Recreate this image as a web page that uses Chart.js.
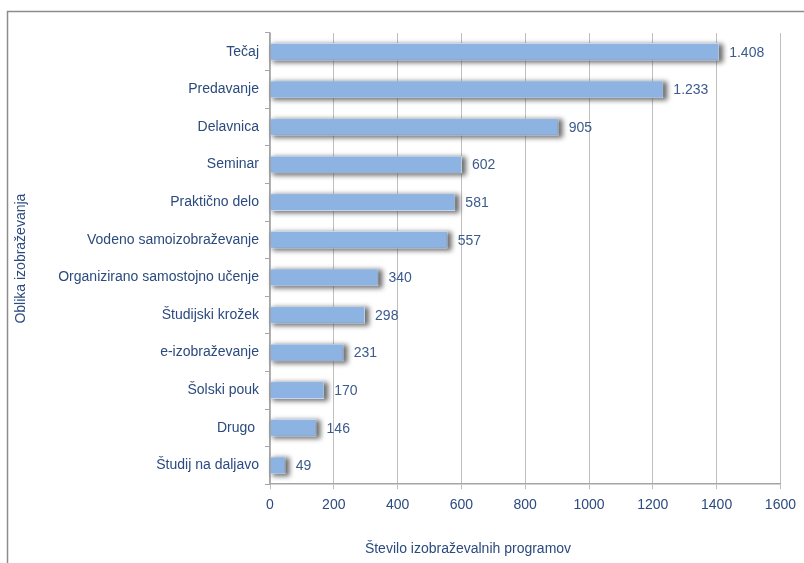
<!DOCTYPE html>
<html>
<head>
<meta charset="utf-8">
<script src="https://cdn.jsdelivr.net/npm/chart.js@4"></script>
<style>
    html, body { margin: 0; padding: 0; background: #fff; }
    #wrap { width: 804px; height: 563px; }
</style>
</head>
<body>
<div id="wrap"><canvas id="graph"></canvas></div>
<script>
const categories = [
    "Tečaj", "Predavanje", "Delavnica", "Seminar", "Praktično delo",
    "Vodeno samoizobraževanje", "Organizirano samostojno učenje",
    "Študijski krožek", "e-izobraževanje", "Šolski pouk", "Drugo ", "Študij na daljavo"
];
const programCounts = [1408, 1233, 905, 602, 581, 557, 340, 298, 231, 170, 146, 49];
const xTicks = [0, 200, 400, 600, 800, 1000, 1200, 1400, 1600];

const textColor = '#2B4A7E';
const fontFamily = "'Liberation Sans Narrow', 'Arial Narrow', 'Liberation Sans', Arial, sans-serif";

function formatThousands(v) {
    return String(v).replace(/\B(?=(\d{3})+(?!\d))/g, '.');
}

// frame round the chart (top and left edges only, like the source picture)
const framePlugin = {
    id: 'frame',
    beforeDraw(chart) {
        const ctx = chart.ctx;
        ctx.save();
        ctx.strokeStyle = '#8C8C8C';
        ctx.lineWidth = 1.5;
        ctx.beginPath();
        ctx.moveTo(7.5, chart.height);
        ctx.lineTo(7.5, 11.5);
        ctx.lineTo(chart.width, 11.5);
        ctx.stroke();
        ctx.restore();
    }
};

// blurred grey shadow behind each bar, taken from the bar elements themselves
const shadowPlugin = {
    id: 'barShadow',
    beforeDatasetsDraw(chart) {
        const ctx = chart.ctx;
        const meta = chart.getDatasetMeta(0);
        ctx.save();
        ctx.filter = 'blur(2.5px)';
        ctx.fillStyle = 'rgba(60, 60, 60, 0.75)';
        meta.data.forEach(bar => {
            const h = bar.height;
            ctx.fillRect(bar.base + 2, bar.y - h / 2 + 1, bar.x - bar.base + 2, h + 1);
        });
        ctx.restore();
    }
};

const valueLabelPlugin = {
    id: 'valueLabels',
    afterDatasetsDraw(chart) {
        const ctx = chart.ctx;
        const meta = chart.getDatasetMeta(0);
        ctx.save();
        ctx.font = '14px ' + fontFamily;
        ctx.fillStyle = '#3A5B8C';
        ctx.textAlign = 'left';
        ctx.textBaseline = 'middle';
        meta.data.forEach((bar, i) => {
            ctx.fillText(formatThousands(programCounts[i]), bar.x + 10, bar.y + 1);
        });
        ctx.restore();
    }
};

const xTitlePlugin = {
    id: 'xTitle',
    afterDraw(chart) {
        const ctx = chart.ctx;
        ctx.save();
        ctx.font = '14px ' + fontFamily;
        ctx.fillStyle = textColor;
        ctx.textAlign = 'center';
        ctx.textBaseline = 'middle';
        ctx.fillText('Število izobraževalnih programov', 468, 549);
        ctx.restore();
    }
};

const canvas = document.getElementById('graph');

new Chart(canvas, {
    type: 'bar',
    data: {
        labels: categories,
        datasets: [{
            data: programCounts,
            backgroundColor: '#8DB3E2',
            borderColor: '#C4D7EF',
            borderWidth: 1,
            borderSkipped: 'left',
            barPercentage: 0.47,
            categoryPercentage: 1.0
        }]
    },
    options: {
        indexAxis: 'y',
        responsive: true,
        maintainAspectRatio: false,
        animation: false,
        layout: {
            padding: { left: 13, right: 20, top: 33, bottom: 41 }
        },
        plugins: {
            legend: { display: false },
            tooltip: { enabled: false }
        },
        scales: {
            x: {
                type: 'linear',
                min: 0,
                max: 1600,
                afterBuildTicks(scale) {
                    scale.ticks = xTicks.map(v => ({ value: v }));
                },
                ticks: {
                    color: textColor,
                    font: { family: fontFamily, size: 14 },
                    padding: 8,
                    callback: v => String(v)
                },
                grid: {
                    color: '#BFBFBF',
                    lineWidth: 1,
                    tickLength: 5,
                    drawTicks: true
                },
                border: { color: '#A6A6A6', width: 1.5 }
            },
            y: {
                ticks: {
                    color: textColor,
                    font: { family: fontFamily, size: 14 },
                    padding: 6
                },
                grid: {
                    drawOnChartArea: false,
                    color: '#A6A6A6',
                    tickLength: 5,
                    offset: true
                },
                border: { color: '#A6A6A6', width: 1.5 },
                title: {
                    display: true,
                    text: 'Oblika izobraževanja',
                    color: textColor,
                    font: { family: fontFamily, size: 14 },
                    padding: { top: 0, bottom: 0 }
                },
                afterFit(scale) {
                    scale.width = 257;
                }
            }
        }
    },
    plugins: [framePlugin, shadowPlugin, valueLabelPlugin, xTitlePlugin]
});
</script>
</body>
</html>
